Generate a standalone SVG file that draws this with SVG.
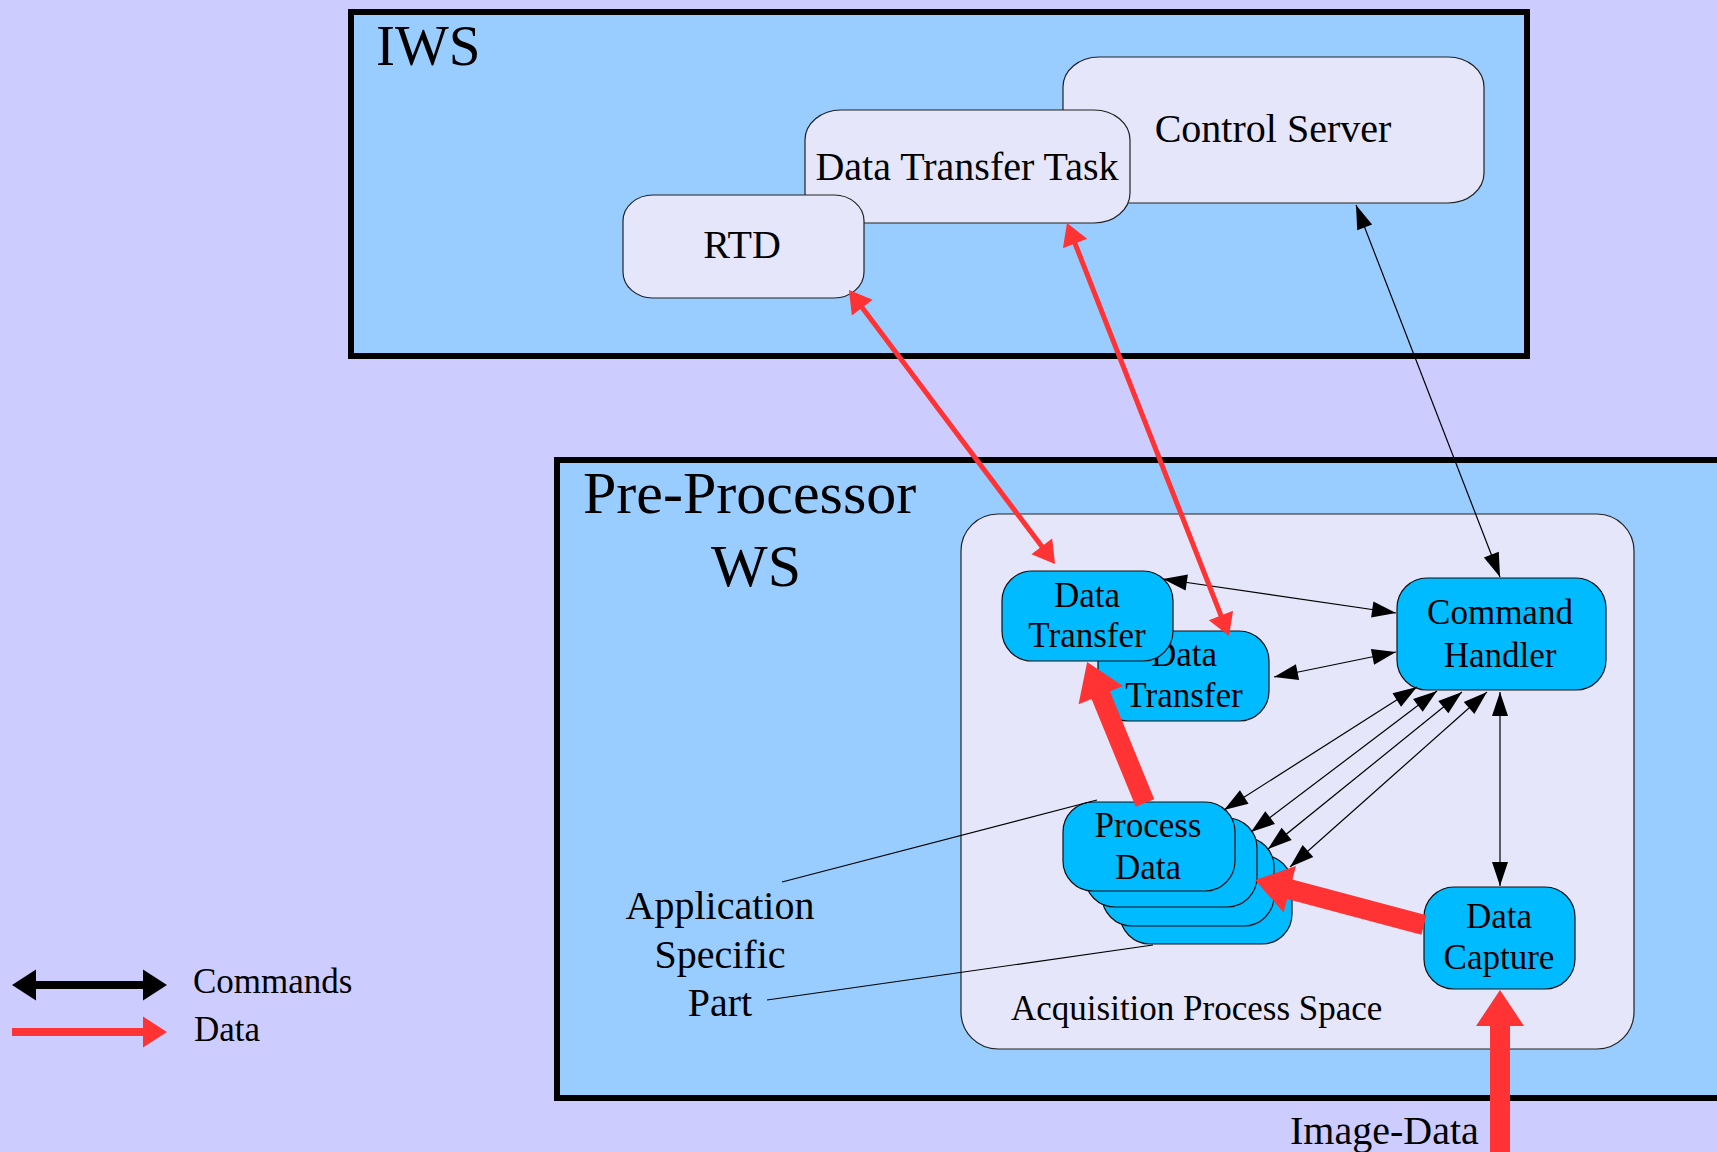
<svg xmlns="http://www.w3.org/2000/svg" width="1717" height="1152" viewBox="0 0 1717 1152">
  <style>
    text { font-family: "Liberation Serif", "Times New Roman", serif; fill: #000; }
    .frame { fill: #99ccff; stroke: #000; stroke-width: 6; }
    .soft { fill: #e6e6fa; stroke: #222; stroke-width: 1.2; }
    .proc { fill: #00bbff; stroke: #111; stroke-width: 1.2; }
    .big { font-size: 40px; }
    .node { font-size: 35px; text-anchor: middle; }
    .mid { text-anchor: middle; }
    .cmd { fill: none; stroke: #000; stroke-width: 1.2; marker-start: url(#headCmd); marker-end: url(#headCmd); }
    .dat { fill: none; stroke: #ff3333; stroke-width: 5; marker-start: url(#headDat); marker-end: url(#headDat); }
    .flow { fill: none; stroke: #ff3333; stroke-width: 20; marker-end: url(#headFlow); }
    .lead { fill: none; stroke: #000; stroke-width: 1.2; }
  </style>
  <defs>
    <marker id="headCmd" markerUnits="userSpaceOnUse" markerWidth="24" markerHeight="16" refX="24" refY="8" orient="auto-start-reverse" overflow="visible">
      <path d="M0,0 L24,8 L0,16 z" fill="#000"/>
    </marker>
    <marker id="headDat" markerUnits="userSpaceOnUse" markerWidth="22" markerHeight="26" refX="2" refY="13" orient="auto-start-reverse" overflow="visible">
      <path d="M0,0 L22,13 L0,26 z" fill="#ff3333"/>
    </marker>
    <marker id="headFlow" markerUnits="userSpaceOnUse" markerWidth="36" markerHeight="48" refX="1" refY="24" orient="auto" overflow="visible">
      <path d="M0,0 L36,24 L0,48 z" fill="#ff3333"/>
    </marker>
    <marker id="headLegK" markerUnits="userSpaceOnUse" markerWidth="24" markerHeight="31" refX="1" refY="15.5" orient="auto-start-reverse" overflow="visible">
      <path d="M0,0 L24,15.5 L0,31 z" fill="#000"/>
    </marker>
    <marker id="headLegR" markerUnits="userSpaceOnUse" markerWidth="24" markerHeight="31" refX="1" refY="15.5" orient="auto" overflow="visible">
      <path d="M0,0 L24,15.5 L0,31 z" fill="#ff3333"/>
    </marker>
  </defs>

  <rect x="0" y="0" width="1717" height="1152" fill="#ccccff"/>

  <!-- workstation frames -->
  <g id="iws">
    <rect class="frame" x="351" y="12" width="1176" height="344"/>
    <text x="376" y="65" font-size="57">IWS</text>
  </g>
  <g id="pre-processor-ws">
    <rect class="frame" x="557" y="460" width="1200" height="638"/>
    <text x="583" y="513" font-size="60">Pre-Processor</text>
    <text x="756" y="586" font-size="60" class="mid">WS</text>
  </g>

  <!-- IWS tasks -->
  <g id="control-server">
    <rect class="soft" x="1063" y="57" width="421" height="146" rx="36" ry="30"/>
    <text class="big mid" x="1273" y="142">Control Server</text>
  </g>
  <g id="data-transfer-task">
    <rect class="soft" x="805" y="110" width="325" height="113" rx="36" ry="30"/>
    <text class="big mid" x="967" y="180">Data Transfer Task</text>
  </g>
  <g id="rtd">
    <rect class="soft" x="623" y="195" width="241" height="103" rx="30" ry="26"/>
    <text class="big mid" x="742" y="258">RTD</text>
  </g>

  <!-- acquisition process space -->
  <g id="acquisition-space">
    <rect class="soft" x="961" y="514" width="673" height="535" rx="37" ry="37"/>
    <text x="1011" y="1020" font-size="35">Acquisition Process Space</text>
  </g>

  <g id="data-transfer-2">
    <rect class="proc" x="1098" y="631" width="171" height="90" rx="30" ry="30"/>
    <text class="node" x="1184" y="666">Data</text>
    <text class="node" x="1184" y="707">Transfer</text>
  </g>
  <g id="data-transfer-1">
    <rect class="proc" x="1002" y="571" width="171" height="90" rx="30" ry="30"/>
    <text class="node" x="1087" y="607">Data</text>
    <text class="node" x="1087" y="647">Transfer</text>
  </g>
  <g id="command-handler">
    <rect class="proc" x="1397" y="578" width="209" height="112" rx="30" ry="30"/>
    <text class="node" x="1500" y="624">Command</text>
    <text class="node" x="1500" y="667">Handler</text>
  </g>
  <g id="process-data">
    <rect class="proc" x="1120" y="855" width="172" height="89" rx="30" ry="30"/>
    <rect class="proc" x="1102" y="837" width="172" height="89" rx="30" ry="30"/>
    <rect class="proc" x="1085" y="818" width="172" height="89" rx="30" ry="30"/>
    <rect class="proc" x="1063" y="802" width="172" height="89" rx="30" ry="30"/>
    <text class="node" x="1148" y="837">Process</text>
    <text class="node" x="1148" y="879">Data</text>
  </g>
  <g id="data-capture">
    <rect class="proc" x="1424" y="887" width="151" height="102" rx="30" ry="30"/>
    <text class="node" x="1499" y="928">Data</text>
    <text class="node" x="1499" y="969">Capture</text>
  </g>

  <g id="application-specific-label">
    <text class="big mid" x="720" y="919">Application</text>
    <text class="big mid" x="720" y="968">Specific</text>
    <text class="big mid" x="720" y="1016">Part</text>
    <line class="lead" x1="782" y1="882" x2="1097" y2="800"/>
    <line class="lead" x1="767" y1="1000" x2="1153" y2="945"/>
  </g>

  <g id="image-data-label">
    <text class="big" x="1290" y="1144">Image-Data</text>
  </g>

  <!-- connectors -->
  <g id="connectors">
    <line class="cmd" x1="1356" y1="205" x2="1500" y2="577"/>
    <line class="cmd" x1="1163" y1="579" x2="1396" y2="613"/>
    <line class="cmd" x1="1274" y1="677" x2="1396" y2="652"/>
    <line class="cmd" x1="1417" y1="687" x2="1224" y2="810"/>
    <line class="cmd" x1="1437" y1="691" x2="1251" y2="832"/>
    <line class="cmd" x1="1462" y1="692" x2="1268" y2="849"/>
    <line class="cmd" x1="1487" y1="692" x2="1290" y2="867"/>
    <line class="cmd" x1="1500" y1="692" x2="1500" y2="886"/>

    <line class="dat" x1="861" y1="306" x2="1043" y2="548"/>
    <line class="dat" x1="1074.3" y1="241.6" x2="1221.7" y2="617.4"/>

    <line class="flow" x1="1145" y1="803" x2="1100.4" y2="694.3"/>
    <line class="flow" x1="1424" y1="925" x2="1288.8" y2="889"/>
    <line class="flow" x1="1500" y1="1160" x2="1500" y2="1025"/>
  </g>

  <!-- legend -->
  <g id="legend">
    <line x1="35" y1="985" x2="144" y2="985" stroke="#000" stroke-width="8" marker-start="url(#headLegK)" marker-end="url(#headLegK)"/>
    <text x="193" y="993" font-size="35">Commands</text>
    <line x1="12" y1="1032" x2="144" y2="1032" stroke="#ff3333" stroke-width="8" marker-end="url(#headLegR)"/>
    <text x="194" y="1041" font-size="35">Data</text>
  </g>
</svg>
